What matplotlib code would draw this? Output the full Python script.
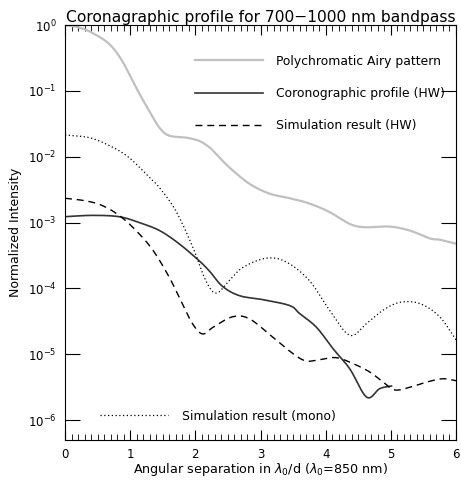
import numpy as np
import matplotlib
matplotlib.use("Agg")
import matplotlib.pyplot as plt
from matplotlib.ticker import MultipleLocator, LogLocator, NullLocator

# ---- data (y values given as log10) ----
airy_x = [0.0, 0.22, 0.42, 0.68, 0.88, 1.09, 1.29, 1.45, 1.60, 1.86, 2.06, 2.22, 2.32,
          2.52, 2.83, 3.14, 3.45, 3.75, 4.06, 4.37, 4.60, 4.98, 5.29, 5.60, 5.75, 6.0]
airy_logy = [0.0, -0.04, -0.12, -0.29, -0.55, -0.95, -1.30, -1.56, -1.68, -1.71, -1.76, -1.86, -1.96,
             -2.16, -2.41, -2.56, -2.63, -2.71, -2.84, -3.02, -3.07, -3.06, -3.12, -3.24, -3.26, -3.32]

coro_x = [0.0, 0.42, 0.83, 1.14, 1.45, 1.75, 2.06, 2.22, 2.42, 2.68, 3.04, 3.45, 3.60,
          3.86, 4.11, 4.37, 4.63, 4.83, 5.01]
coro_logy = [-2.91, -2.89, -2.91, -3.00, -3.12, -3.32, -3.58, -3.74, -3.97, -4.11, -4.17, -4.26, -4.38,
             -4.59, -4.91, -5.22, -5.65, -5.52, -5.48]

simhw_x = [0.0, 0.32, 0.57, 0.83, 1.09, 1.35, 1.60, 1.80, 1.96, 2.11, 2.27, 2.57, 2.83,
           3.19, 3.50, 3.70, 3.91, 4.16, 4.42, 4.68, 4.88, 5.06, 5.29, 5.55, 5.80, 6.0]
simhw_logy = [-2.63, -2.67, -2.74, -2.89, -3.12, -3.42, -3.83, -4.23, -4.54, -4.69, -4.59, -4.43, -4.46,
              -4.74, -4.99, -5.10, -5.08, -5.05, -5.14, -5.27, -5.42, -5.54, -5.50, -5.42, -5.37, -5.40]

mono_x = [0.0, 0.37, 0.68, 0.98, 1.29, 1.45, 1.70, 1.96, 2.16, 2.32, 2.52, 2.73, 3.09,
          3.40, 3.75, 4.06, 4.37, 4.63, 4.88, 5.14, 5.45, 5.75, 6.0]
mono_logy = [-1.67, -1.71, -1.83, -2.01, -2.31, -2.47, -2.82, -3.37, -3.88, -4.07, -3.88, -3.68, -3.54,
             -3.60, -3.88, -4.33, -4.71, -4.53, -4.33, -4.21, -4.23, -4.43, -4.78]

labels = ["Polychromatic Airy pattern", "Coronographic profile (HW)",
          "Simulation result (HW)", "Simulation result (mono)"]
title = "Coronagraphic profile for 700\u22121000 nm bandpass"
xlabel = r"Angular separation in $\lambda_0$/d ($\lambda_0$=850 nm)"
ylabel = "Normalized Intensity"


def catmull(xs, ys, n=20):
    """Simple Catmull-Rom curve through the given points."""
    P = np.column_stack([xs, ys]).astype(float)
    P = np.vstack([2 * P[0] - P[1], P, 2 * P[-1] - P[-2]])
    out = []
    t = np.linspace(0, 1, n, endpoint=False)[:, None]
    for i in range(1, len(P) - 2):
        p0, p1, p2, p3 = P[i - 1], P[i], P[i + 1], P[i + 2]
        seg = 0.5 * ((2 * p1) + (-p0 + p2) * t + (2 * p0 - 5 * p1 + 4 * p2 - p3) * t ** 2
                     + (-p0 + 3 * p1 - 3 * p2 + p3) * t ** 3)
        out.append(seg)
    out.append(P[-2][None, :])
    out = np.vstack(out)
    return out[:, 0], out[:, 1]


plt.rcParams["font.family"] = ["DejaVu Sans"]
fig = plt.figure(figsize=(4.61, 4.82), dpi=100)
ax = fig.add_axes([65 / 461, 42 / 482, 391 / 461, 415 / 482])

gray = "#c0c0c0"
tx, ty = catmull(airy_x, airy_logy)
l1, = ax.plot(tx, 10 ** ty, color=gray, lw=1.6, label=labels[0])
tx, ty = catmull(coro_x, coro_logy)
l2, = ax.plot(tx, 10 ** ty, color="#333333", lw=1.2, label=labels[1])
tx, ty = catmull(simhw_x, simhw_logy)
l3, = ax.plot(tx, 10 ** ty, color="black", lw=1.0, ls=(0, (5, 3.5)), label=labels[2])
tx, ty = catmull(mono_x, mono_logy)
l4, = ax.plot(tx, 10 ** ty, color="black", lw=0.9, ls=(0, (1, 2)), label=labels[3])

ax.set_yscale("log")
ax.set_xlim(0, 6)
ax.set_ylim(10 ** -6.3, 10 ** 0.0)
ax.xaxis.set_major_locator(MultipleLocator(1))
ax.xaxis.set_minor_locator(MultipleLocator(0.1))
ax.yaxis.set_major_locator(LogLocator(base=10, numticks=10))
ax.yaxis.set_minor_locator(NullLocator())
ax.tick_params(which="both", direction="in", top=True, right=True, labelsize=8.5, pad=6)
ax.tick_params(axis="x", which="major", length=7, width=0.8)
ax.tick_params(axis="x", which="minor", length=4, width=0.6)
ax.tick_params(axis="y", which="major", length=11, width=0.8)
for s in ax.spines.values():
    s.set_linewidth(0.8)

ax.set_title(title, fontsize=11.2, pad=2)
ax.set_xlabel(xlabel, fontsize=9.2, labelpad=0)
ax.set_ylabel(ylabel, fontsize=9, labelpad=4)

leg1 = ax.legend(handles=[l1, l2, l3], loc="upper left", bbox_to_anchor=(0.305, 0.955),
                 frameon=False, fontsize=8.9, handlelength=5.5, handletextpad=1.0,
                 labelspacing=1.55)
ax.add_artist(leg1)
ax.legend(handles=[l4], loc="lower left", bbox_to_anchor=(0.06, 0.015),
          frameon=False, fontsize=8.9, handlelength=5.5, handletextpad=1.2)

fig.savefig("out.png", dpi=100)
